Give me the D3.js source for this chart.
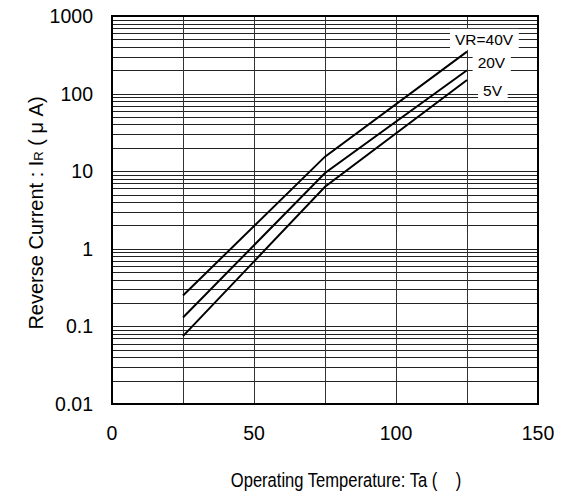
<!DOCTYPE html>
<html>
<head>
  <meta charset="UTF-8" />
  <title>Reverse Current vs Operating Temperature</title>
  <script src="https://cdn.jsdelivr.net/npm/d3@7/dist/d3.min.js"></script>
  <style>
    body { margin: 0; background: #fff; }
    svg { font-family: "Liberation Sans", Arial, sans-serif; }
  </style>
</head>
<body>
  <div id="chart"></div>
  <script>
    // data
    const temps = [25, 75, 125];
    const seriesNames = ["VR=40V", "20V", "5V"];
    const vr40 = [0.25, 15.4, 347];
    const vr20 = [0.13, 9.5, 200];
    const vr5 = [0.075, 6.3, 150];
    const xTicks = [0, 50, 100, 150];
    const xGrid = [25, 50, 75, 100, 125];
    const yTicks = [0.01, 0.1, 1, 10, 100, 1000];
    const yTickLabels = ["0.01", "0.1", "1", "10", "100", "1000"];

    const width = 569, height = 497;
    const margin = { left: 112, right: 31, top: 16, bottom: 93 };

    const svg = d3.select("#chart").append("svg")
      .attr("width", width).attr("height", height);

    const x = d3.scaleLinear().domain([0, 150]).range([margin.left, width - margin.right]);
    const y = d3.scaleLog().domain([0.01, 1000]).range([height - margin.bottom, margin.top]);

    // minor + major horizontal grid
    const yGrid = [];
    for (let d = 0.01; d < 1000; d *= 10) {
      for (let k = 1; k <= 9; k++) yGrid.push(+(d * k).toPrecision(3));
    }
    svg.append("g").selectAll("line").data(yGrid).join("line")
      .attr("x1", x(0)).attr("x2", x(150))
      .attr("y1", d => Math.round(y(d)) + 0.5).attr("y2", d => Math.round(y(d)) + 0.5)
      .attr("stroke", "#222").attr("stroke-width", 1);

    svg.append("g").selectAll("line").data(xGrid).join("line")
      .attr("x1", d => Math.round(x(d)) + 0.5).attr("x2", d => Math.round(x(d)) + 0.5)
      .attr("y1", y(1000)).attr("y2", y(0.01))
      .attr("stroke", "#333").attr("stroke-width", 1);

    // frame
    svg.append("rect")
      .attr("x", x(0)).attr("y", y(1000))
      .attr("width", x(150) - x(0)).attr("height", y(0.01) - y(1000))
      .attr("fill", "none").attr("stroke", "#000").attr("stroke-width", 2);

    // curves
    const series = [vr40, vr20, vr5];
    const line = d3.line().x((d, i) => x(temps[i])).y(d => y(d));
    svg.append("g").selectAll("path").data(series).join("path")
      .attr("d", d => line(d))
      .attr("fill", "none").attr("stroke", "#000").attr("stroke-width", 2);

    // series labels on white boxes
    const labelAt = [[131, 500], [133.6, 250], [134, 111]];
    const lg = svg.append("g");
    seriesNames.forEach((name, i) => {
      const t = lg.append("text")
        .attr("x", x(labelAt[i][0]))
        .attr("y", y(labelAt[i][1]))
        .attr("text-anchor", "middle")
        .attr("dominant-baseline", "central")
        .attr("font-size", 15.5)
        .text(name);
      const bb = t.node().getBBox();
      lg.insert("rect", "text")
        .attr("x", bb.x - 5).attr("y", bb.y - 2)
        .attr("width", bb.width + 10).attr("height", bb.height + 4)
        .attr("fill", "#fff");
    });

    // y tick labels
    svg.append("g").selectAll("text").data(yTicks).join("text")
      .attr("x", 93).attr("y", d => y(d))
      .attr("text-anchor", "end").attr("dominant-baseline", "central")
      .attr("font-size", 19.5)
      .text((d, i) => yTickLabels[i]);

    // x tick labels
    svg.append("g").selectAll("text").data(xTicks).join("text")
      .attr("x", d => x(d)).attr("y", 440)
      .attr("text-anchor", "middle")
      .attr("font-size", 19.5)
      .text(d => d);

    // axis titles
    svg.append("text")
      .attr("transform", "translate(346,487) scale(0.85,1)")
      .attr("text-anchor", "middle").attr("font-size", 19.5)
      .text("Operating Temperature: Ta (\u00a0\u00a0\u00a0\u00a0)");

    const yt = svg.append("text")
      .attr("transform", "translate(43,213) rotate(-90)")
      .attr("text-anchor", "middle").attr("font-size", 20);
    yt.append("tspan").text("Reverse Current : I");
    yt.append("tspan").attr("font-size", 13).text("R");
    yt.append("tspan").text(" ( \u03bc A)");
  </script>
</body>
</html>
